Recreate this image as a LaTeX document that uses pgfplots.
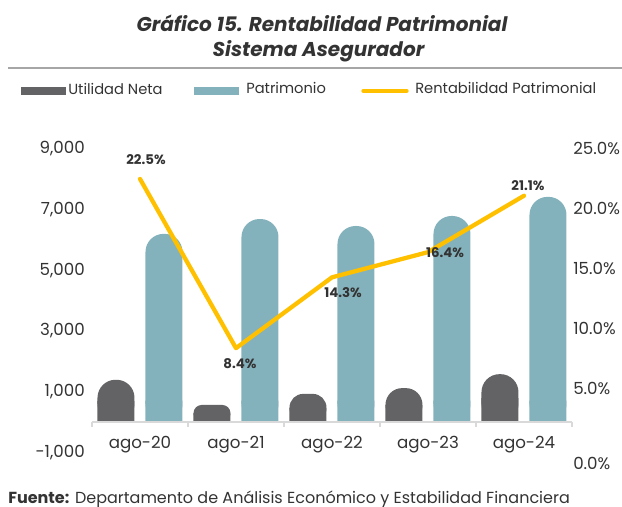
\documentclass[border=0pt]{standalone}
\usepackage{fontspec}
\setmainfont{Poppins}
\usepackage{pgfplots}
\usepackage{pgfplotstable}
\pgfplotsset{compat=1.18}
\definecolor{dgray}{HTML}{636365}
\definecolor{teal1}{HTML}{84B2BC}
\definecolor{gold}{HTML}{FFC000}
\definecolor{txt}{HTML}{333333}
\definecolor{axgray}{HTML}{D9D9D9}
\definecolor{rule}{HTML}{A6A6A6}

\pgfplotstableread{
x v
0 6200
1 6690
2 6460
3 6790
4 7420
}\patrimonio

\pgfplotstableread{
x r dx dy
0 22.5 4.5 14.25
1 8.4 3 -11.85
2 14.3 8.25 -11.7
3 16.4 12.75 0
4 21.1 3 7.5
}\roe

\pgfplotsset{
  /pgf/number format/assume math mode=true,
}

\begin{document}
\begin{tikzpicture}
\path[use as bounding box] (-69pt,-41pt) rectangle (397.5pt,339.2pt);

% title
\node[anchor=base, inner sep=0pt, text=txt, font=\bfseries\itshape\fontsize{15}{18}\selectfont] at (172.5pt,315.2pt) {Gráfico 15. Rentabilidad Patrimonial};
\node[anchor=base, inner sep=0pt, text=txt, font=\bfseries\itshape\fontsize{15}{18}\selectfont] at (169.9pt,296.5pt) {Sistema Asegurador};
\draw[rule, line width=1.5pt] (-63pt,288.2pt) -- (397.5pt,288.2pt);

% legend
\fill[dgray] (-53.25pt,268pt) rectangle (-19.5pt,274pt);
\node[anchor=base west, inner sep=0pt, text=txt, font=\fontsize{11}{13}\selectfont] at (-18pt,268pt) {Utilidad Neta};
\fill[teal1] (76.5pt,268pt) rectangle (110.25pt,274pt);
\node[anchor=base west, inner sep=0pt, text=txt, font=\fontsize{11}{13}\selectfont] at (115.5pt,268.7pt) {Patrimonio};
\draw[gold, line width=3pt, line cap=round] (203.5pt,271pt) -- (236pt,271pt);
\node[anchor=base west, inner sep=0pt, text=txt, font=\fontsize{11}{13}\selectfont] at (242.25pt,268.7pt) {Rentabilidad Patrimonial};

% footer
\node[anchor=base west, inner sep=0pt, text=txt, font=\fontsize{12}{14}\selectfont] at (-63pt,-38.2pt) {\textbf{Fuente:} Departamento de Análisis Económico y Estabilidad Financiera};

\begin{axis}[
  at={(0pt,0pt)}, anchor=south west,
  scale only axis, width=360pt, height=227.5pt,
  xmin=-0.5, xmax=4.5, ymin=-1000, ymax=9000,
  axis line style={draw=none}, major tick length=0pt,
  xtick={0,1,2,3,4}, xticklabels={ago-20,ago-21,ago-22,ago-23,ago-24},
  ytick={-1000,1000,3000,5000,7000,9000},
  /pgf/number format/1000 sep={,},
  tick label style={font=\fontsize{12.5}{14}\selectfont, text=txt},
  yticklabel style={anchor=east, inner sep=0pt, xshift=-5.25pt},
  xticklabel style={anchor=base, inner sep=0pt, yshift=2.5pt},
  clip=false,
]
% Utilidad Neta (rounded tops)
\addplot[ybar, bar width=27.75pt, bar shift=-18pt, fill=dgray, draw=none, rounded corners=13.5pt] coordinates {(0,1390)};
\addplot[ybar, bar width=27.75pt, bar shift=-18pt, fill=dgray, draw=none, rounded corners=6.2pt] coordinates {(1,560)};
\addplot[ybar, bar width=27.75pt, bar shift=-18pt, fill=dgray, draw=none, rounded corners=10.3pt] coordinates {(2,925)};
\addplot[ybar, bar width=27.75pt, bar shift=-18pt, fill=dgray, draw=none, rounded corners=12.5pt] coordinates {(3,1115)};
\addplot[ybar, bar width=27.75pt, bar shift=-18pt, fill=dgray, draw=none, rounded corners=13.5pt] coordinates {(4,1575)};
\addplot[ybar, bar width=27.75pt, bar shift=-18pt, fill=dgray, draw=none] coordinates {(0,695) (1,280) (2,462) (3,557) (4,787)};
% Patrimonio
\addplot[ybar, bar width=27.75pt, bar shift=18pt, fill=teal1, draw=none, rounded corners=13.5pt] table[x=x,y=v]{\patrimonio};
\addplot[ybar, bar width=27.75pt, bar shift=18pt, fill=teal1, draw=none] coordinates {(0,700) (1,700) (2,700) (3,700) (4,700)};
% x axis line and separators
\addplot[sharp plot, draw=axgray, line width=1.5pt] coordinates {(-0.5,0) (4.5,0)};
\addplot[ycomb, draw=axgray, line width=1pt] coordinates {(-0.5,-170) (0.5,-170) (1.5,-170) (2.5,-170) (3.5,-170) (4.5,-170)};
\end{axis}

\begin{axis}[
  at={(0pt,0pt)}, anchor=south west,
  scale only axis, width=360pt, height=227.5pt,
  xmin=-0.5, xmax=4.5, ymin=-0.275, ymax=25,
  axis line style={draw=none}, major tick length=0pt,
  xtick=\empty,
  ytick={5,10,15,20,25}, extra y ticks={0},
  yticklabel pos=right,
  yticklabel={\pgfmathprintnumber[fixed,fixed zerofill,precision=1]{\tick}\%},
  yticklabel style={anchor=west, inner sep=0pt, xshift=0.75pt, font=\fontsize{12.5}{14}\selectfont, text=txt},
  extra y tick style={yticklabel style={yshift=-11pt}},
  clip=false,
]
\addplot[gold, line width=3.2pt, line join=round, line cap=round] table[x=x,y=r]{\roe};
\addplot[draw=none, point meta=\thisrow{r},
  visualization depends on={\thisrow{dx}\as\lblx},
  visualization depends on={\thisrow{dy}\as\lbly},
  nodes near coords={\pgfmathprintnumber[fixed,fixed zerofill,precision=1]{\pgfplotspointmeta}\%},
  every node near coord/.append style={anchor=center, inner sep=0pt, xshift=\lblx*1pt, yshift=\lbly*1pt, font=\bfseries\fontsize{10}{12}\selectfont, text=txt},
] table[x=x,y=r]{\roe};
\end{axis}
\end{tikzpicture}
\end{document}
